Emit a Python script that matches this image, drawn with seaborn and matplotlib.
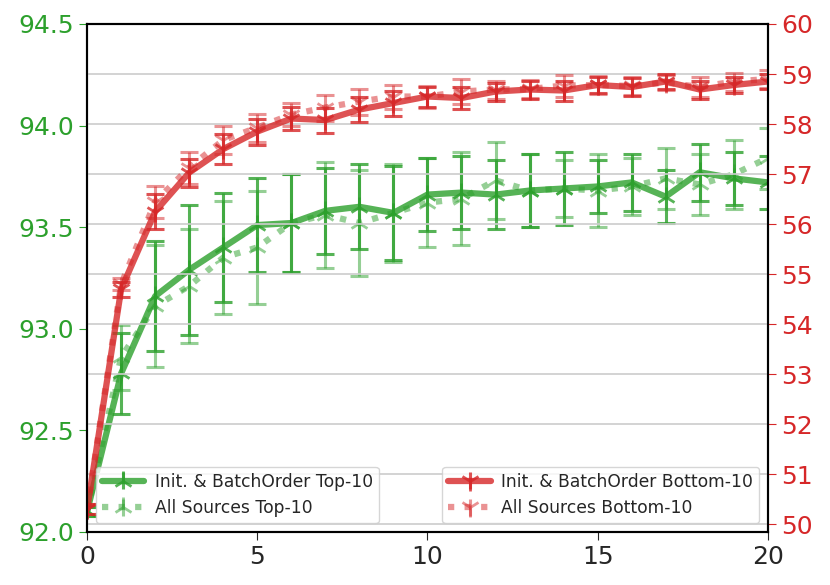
import numpy as np
import matplotlib
matplotlib.use('Agg')
import matplotlib.pyplot as plt
from matplotlib.container import ErrorbarContainer
import seaborn as sns

sns.set_style('ticks')
plt.rcParams['font.family'] = ['DejaVu Sans']

# 数据
epochs = list(range(21))

# 绿色: Top-10 (左轴)
top_init = [92.10, 92.78, 93.16, 93.29, 93.40, 93.51, 93.52, 93.58, 93.60, 93.57, 93.66,
            93.67, 93.66, 93.68, 93.69, 93.70, 93.72, 93.65, 93.77, 93.74, 93.72]
top_init_err = [0.02, 0.20, 0.27, 0.32, 0.27, 0.23, 0.24, 0.21, 0.21, 0.23, 0.18,
                0.18, 0.17, 0.18, 0.18, 0.13, 0.14, 0.13, 0.14, 0.13, 0.13]
top_all = [92.10, 92.86, 93.11, 93.21, 93.35, 93.40, 93.52, 93.56, 93.52, 93.57, 93.62,
           93.64, 93.73, 93.68, 93.69, 93.68, 93.70, 93.74, 93.71, 93.76, 93.84]
top_all_err = [0.02, 0.16, 0.30, 0.28, 0.28, 0.28, 0.24, 0.26, 0.26, 0.24, 0.22,
               0.23, 0.19, 0.18, 0.14, 0.18, 0.14, 0.15, 0.15, 0.17, 0.15]

# 红色: Bottom-10 (右轴)
bot_init = [50.30, 54.70, 56.25, 57.03, 57.50, 57.85, 58.11, 58.08, 58.29, 58.42, 58.55,
            58.52, 58.65, 58.69, 58.67, 58.78, 58.74, 58.85, 58.69, 58.78, 58.85]
bot_init_err = [0.10, 0.15, 0.35, 0.28, 0.30, 0.26, 0.23, 0.25, 0.25, 0.25, 0.20,
                0.22, 0.18, 0.18, 0.20, 0.16, 0.18, 0.15, 0.18, 0.16, 0.15]
bot_all = [50.30, 54.80, 56.45, 57.13, 57.68, 57.93, 58.19, 58.33, 58.45, 58.55, 58.55,
           58.65, 58.69, 58.70, 58.77, 58.78, 58.76, 58.83, 58.74, 58.85, 58.90]
bot_all_err = [0.10, 0.12, 0.32, 0.32, 0.28, 0.28, 0.23, 0.26, 0.26, 0.24, 0.22,
               0.25, 0.18, 0.18, 0.22, 0.18, 0.18, 0.15, 0.20, 0.18, 0.18]

green = '#2ca02c'
red = '#d62728'

fig = plt.figure(figsize=(8.3, 5.85), dpi=100)
ax1 = fig.add_axes([0.105, 0.091, 0.82, 0.868])
ax2 = ax1.twinx()


def draw(ax, y, err, color, ls, marker, alpha, label):
    sns.lineplot(x=epochs, y=y, ax=ax, color=color, linestyle=ls,
                 linewidth=4.5, alpha=alpha, legend=False)
    line = ax.get_lines()[-1]
    line.set_marker(marker)
    line.set_markersize(14)
    line.set_markeredgewidth(2)
    line.set_markeredgecolor(color)
    eb = ax.errorbar(epochs, y, yerr=err, fmt='none', ecolor=color, elinewidth=2.2,
                     capsize=6.5, capthick=2.2, alpha=alpha)
    # 图例里只保留竖线, 不画帽
    return ErrorbarContainer((line, (), eb.lines[2]),
                             has_xerr=False, has_yerr=True, label=label)


h1 = draw(ax1, top_init, top_init_err, green, '-', '2', 0.8, 'Init. & BatchOrder Top-10')
h2 = draw(ax1, top_all, top_all_err, green, ':', '2', 0.5, 'All Sources Top-10')
h3 = draw(ax2, bot_init, bot_init_err, red, '-', '1', 0.8, 'Init. & BatchOrder Bottom-10')
h4 = draw(ax2, bot_all, bot_all_err, red, ':', '1', 0.5, 'All Sources Bottom-10')

ax1.set_xlim(0, 20)
ax1.set_xticks([0, 5, 10, 15, 20])
ax1.set_ylim(92.0, 94.5)
ax1.set_yticks([92.0, 92.5, 93.0, 93.5, 94.0, 94.5])
ax1.set_yticklabels([f'{v:.1f}' for v in [92.0, 92.5, 93.0, 93.5, 94.0, 94.5]])
ax2.set_ylim(49.85, 60)
ax2.set_yticks(range(50, 61))

ax1.tick_params(axis='x', labelsize=18, length=6)
ax1.tick_params(axis='y', labelsize=18, colors=green, length=6)
ax2.tick_params(axis='y', labelsize=18, colors=red, length=6)
for ax in (ax1, ax2):
    for s in ax.spines.values():
        s.set_color('black')
        s.set_linewidth(1.5)

ax2.grid(axis='y', color='#cccccc', linewidth=1.2)
ax2.set_axisbelow(True)

leg_kw = dict(fontsize=12.3, handlelength=2.5, handletextpad=0.6, borderpad=0.35)
leg1 = ax2.legend(handles=[h1, h2], loc='lower left', **leg_kw)
ax2.add_artist(leg1)
ax2.legend(handles=[h3, h4], loc='lower right', **leg_kw)

plt.savefig('out.png', dpi=100)
